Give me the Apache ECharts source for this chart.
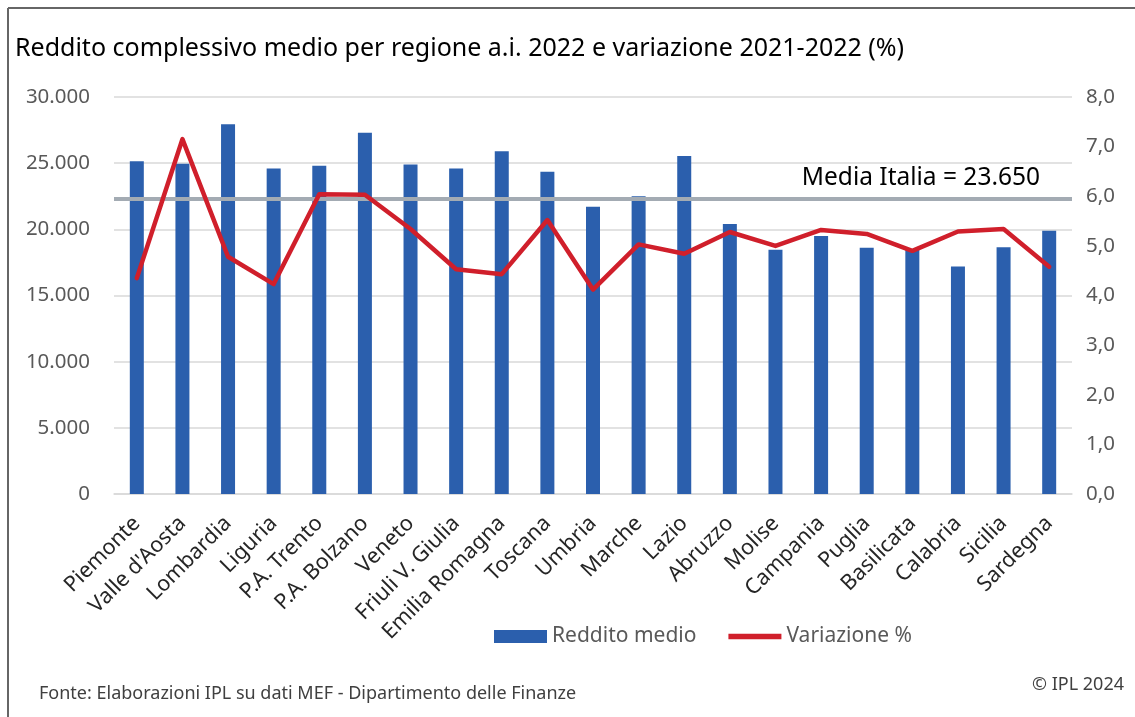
<!DOCTYPE html>
<html>
<head>
<meta charset="utf-8">
<script src="https://cdn.jsdelivr.net/npm/echarts@6/dist/echarts.min.js"></script>
<style>
html,body{margin:0;padding:0;background:#fff;}
#chart{width:1135px;height:717px;}
</style>
</head>
<body>
<div id="chart"></div>
<script>
const categories = ["Piemonte","Valle d'Aosta","Lombardia","Liguria","P.A. Trento","P.A. Bolzano","Veneto","Friuli V. Giulia","Emilia Romagna","Toscana","Umbria","Marche","Lazio","Abruzzo","Molise","Campania","Puglia","Basilicata","Calabria","Sicilia","Sardegna"];
const redditoMedio = [25150,24950,27950,24600,24800,27300,24900,24600,25900,24350,21700,22500,25550,20400,18450,19500,18600,18500,17200,18650,19900];
const variazione = [4.35,7.15,4.78,4.23,6.04,6.03,5.34,4.53,4.43,5.52,4.12,5.03,4.84,5.28,5.00,5.32,5.24,4.90,5.29,5.34,4.58];
const leftTicks = {min:0, max:30000, interval:5000};
const rightTicks = {min:0, max:8, interval:1};
const mediaLineLevel = 22300;
const mediaLabel = "Media Italia = 23.650";

const FONT = "'Noto Sans', 'Open Sans', sans-serif";
const chart = echarts.init(document.getElementById('chart'));
chart.setOption({
  animation:false,
  backgroundColor:'#fff',
  textStyle:{fontFamily:FONT},
  title:[
    {text:'Reddito complessivo medio per regione a.i. 2022 e variazione 2021-2022 (%)', left:10, top:31,
     textStyle:{fontFamily:FONT, fontSize:25, fontWeight:'normal', color:'#000'}},
    {text:'Fonte: Elaborazioni IPL su dati MEF - Dipartimento delle Finanze', left:34, top:680,
     textStyle:{fontFamily:FONT, fontSize:18, fontWeight:'normal', color:'#404040'}},
    {text:'© IPL 2024', right:6, top:671,
     textStyle:{fontFamily:FONT, fontSize:18, fontWeight:'normal', color:'#404040'}}
  ],
  graphic:[
    {type:'line', shape:{x1:8,y1:8,x2:8,y2:717}, style:{stroke:'#666',lineWidth:2}},
    {type:'line', shape:{x1:8,y1:8,x2:1135,y2:8}, style:{stroke:'#666',lineWidth:2}}
  ],
  legend:{
    left:489, top:621, itemWidth:53, itemHeight:13, itemGap:32,
    textStyle:{fontFamily:FONT, fontSize:21, color:'#595959', padding:[0,0,0,0]},
    data:[{name:'Reddito medio', icon:'rect'},{name:'Variazione %', icon:'path://M0,0h53v5.5h-53z'}]
  },
  grid:{left:114, right:63, top:97, bottom:223, containLabel:false},
  xAxis:{
    type:'category', data:categories,
    axisLine:{lineStyle:{color:'#d9d9d9', width:1.5}},
    axisTick:{show:false},
    axisLabel:{rotate:45, interval:0, fontFamily:FONT, fontSize:21.5, color:'#262626', margin:26}
  },
  yAxis:[
    {type:'value', min:leftTicks.min, max:leftTicks.max, interval:leftTicks.interval,
     axisLine:{show:false}, axisTick:{show:false},
     splitLine:{lineStyle:{color:'#d9d9d9', width:1.5}},
     axisLabel:{fontFamily:FONT, fontSize:20.5, color:'#595959', margin:24,
       formatter:v=>v.toLocaleString('de-DE')}},
    {type:'value', min:rightTicks.min, max:rightTicks.max, interval:rightTicks.interval,
     axisLine:{show:false}, axisTick:{show:false}, splitLine:{show:false},
     axisLabel:{fontFamily:FONT, fontSize:20.5, color:'#595959', margin:14,
       formatter:v=>v.toFixed(1).replace('.',',')}}
  ],
  series:[
    {name:'Reddito medio', type:'bar', data:redditoMedio, yAxisIndex:0, barWidth:14,
     itemStyle:{color:'#2b5fad'},
     markLine:{silent:true, symbol:'none',
       lineStyle:{color:'#a3abb3', width:4, type:'solid'},
       label:{show:true, position:'insideEndTop', formatter:mediaLabel,
         fontFamily:FONT, fontSize:24.5, color:'#000', padding:[0,27,3,0]},
       data:[{yAxis:mediaLineLevel}]}},
    {name:'Variazione %', type:'line', data:variazione, yAxisIndex:1,
     symbol:'none', lineStyle:{color:'#d01f2b', width:4.5, cap:'round', join:'round'}, itemStyle:{color:'#d01f2b'}, z:5}
  ]
});
</script>
</body>
</html>
